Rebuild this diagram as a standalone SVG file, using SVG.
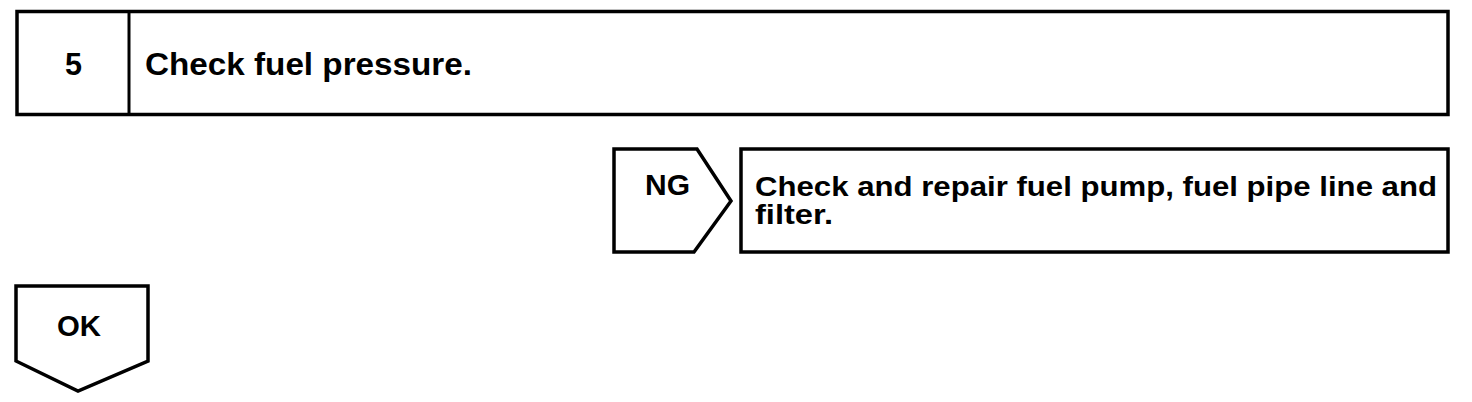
<svg xmlns="http://www.w3.org/2000/svg" width="1472" height="402" viewBox="0 0 1472 402">
<style>
.box{fill:#fff;stroke:#000;stroke-width:3.5;stroke-linejoin:miter}
.t{font-family:"Liberation Sans",Arial,sans-serif;font-weight:bold;fill:#000}
</style>
<rect width="1472" height="402" fill="#fff"/>
<g id="step5">
<rect class="box" x="17" y="11.5" width="1431" height="103"/>
<line x1="129" y1="11.5" x2="129" y2="114.5" stroke="#000" stroke-width="3"/>
<text class="t" x="65" y="75" font-size="31" textLength="17" lengthAdjust="spacingAndGlyphs">5</text>
<text class="t" x="145" y="75" font-size="32" textLength="327" lengthAdjust="spacingAndGlyphs">Check fuel pressure.</text>
</g>
<g id="ng">
<path class="box" d="M614 149 L697 149 L731 201 L694 252 L614 252 Z" stroke-width="3"/>
<text class="t" x="645" y="195" font-size="30" textLength="45" lengthAdjust="spacingAndGlyphs">NG</text>
</g>
<g id="repair">
<rect class="box" x="741" y="149" width="707" height="103" stroke-width="3"/>
<text class="t" x="755" y="196" font-size="27" textLength="682" lengthAdjust="spacingAndGlyphs">Check and repair fuel pump, fuel pipe line and</text>
<text class="t" x="755" y="224" font-size="27" textLength="78" lengthAdjust="spacingAndGlyphs">filter.</text>
</g>
<g id="ok">
<path class="box" d="M16 286 L148 286 L148 361 L78 391 L16 361 Z" stroke-width="3"/>
<text class="t" x="57" y="336" font-size="29" textLength="44" lengthAdjust="spacingAndGlyphs">OK</text>
</g>
<g id="connectors"></g>
</svg>
